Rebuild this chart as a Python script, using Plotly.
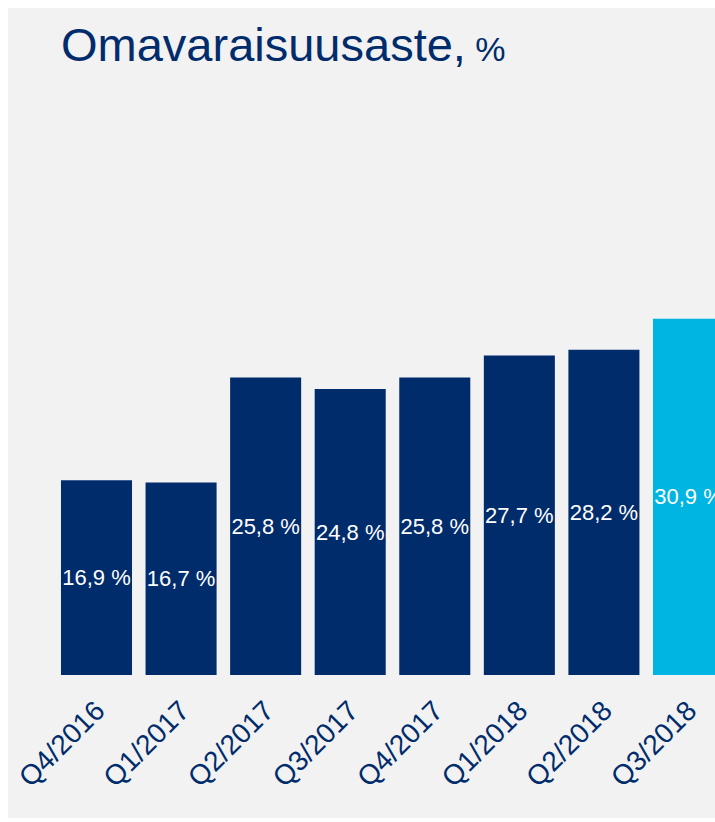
import plotly.graph_objects as go

categories = ["Q4/2016", "Q1/2017", "Q2/2017", "Q3/2017", "Q4/2017", "Q1/2018", "Q2/2018", "Q3/2018"]
values = [16.9, 16.7, 25.8, 24.8, 25.8, 27.7, 28.2, 30.9]
bar_colors = ["#002C6C"] * 7 + ["#00B5E2"]
labels = [f"{v:.1f}".replace(".", ",") + " %" for v in values]

W, H = 715, 810
ML, MR, MT, MB = 0, 0, 100, 143
plot_h = H - MT - MB
px_per_unit = 11.53
ymax = plot_h / px_per_unit

fig = go.Figure(go.Bar(
    x=list(range(len(categories))),
    y=values,
    marker=dict(color=bar_colors, line=dict(width=0)),
    text=labels,
    textposition="inside",
    insidetextanchor="middle",
    constraintext="none",
    textangle=0,
    textfont=dict(family="Liberation Sans, Arial", size=22, color="#FFFFFF"),
    hoverinfo="skip",
))

fig.add_annotation(
    xref="paper", yref="paper", x=51 / W, y=((H - MB) - 37) / plot_h,
    xanchor="left", yanchor="middle", showarrow=False,
    text="Omavaraisuusaste,<span style='font-size:34px'> %</span>",
    font=dict(family="Liberation Sans, Arial", size=47, color="#002C6C"),
)

cat_w = 84.57
r0 = -88.5 / cat_w
r1 = r0 + W / cat_w

fig.update_layout(
    width=W, height=H,
    margin=dict(l=ML, r=MR, t=MT, b=MB, pad=0),
    paper_bgcolor="#F2F2F2",
    plot_bgcolor="#F2F2F2",
    bargap=0.16,
    showlegend=False,
    xaxis=dict(
        range=[r0, r1],
        tickmode="array",
        tickvals=list(range(len(categories))),
        ticktext=categories,
        tickangle=-45,
        ticks="outside", ticklen=7, tickcolor="rgba(0,0,0,0)",
        tickfont=dict(family="Liberation Sans, Arial", size=28, color="#002C6C"),
        showgrid=False, zeroline=False, showline=False,
    ),
    yaxis=dict(range=[0, ymax], visible=False, showgrid=False, zeroline=False),
)

fig.write_html(
    "out.html",
    post_script=(
        "document.documentElement.style.overflow='hidden';"
        "document.body.style.overflow='hidden';"
        "document.body.style.margin='8px 0 0 8px';"
    ),
)
